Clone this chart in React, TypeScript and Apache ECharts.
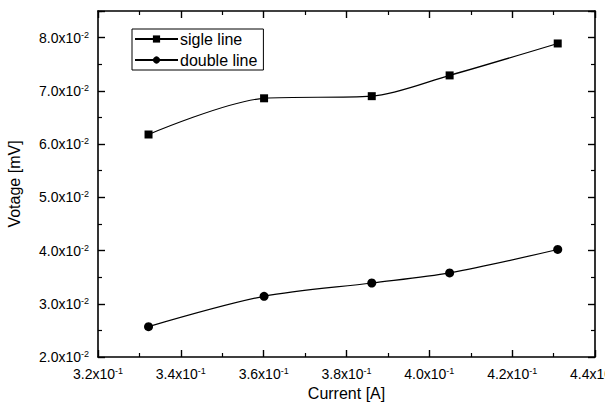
import React, { useEffect, useRef } from "react";
import * as echarts from "echarts";

const currentA = [0.3322, 0.3601, 0.3861, 0.4049, 0.431];
const singleLine = [0.0618, 0.0686, 0.069, 0.0729, 0.0789];
const doubleLine = [0.0257, 0.0314, 0.0339, 0.0358, 0.0402];
const seriesNames = ["sigle line", "double line"];
const xTicks = [0.32, 0.34, 0.36, 0.38, 0.4, 0.42, 0.44];
const yTicks = [0.02, 0.03, 0.04, 0.05, 0.06, 0.07, 0.08];

const FONT = "Liberation Sans, Arial, sans-serif";

const isTick = (v: number, list: number[]) => list.some((t) => Math.abs(t - v) < 1e-9);

export default function App() {
  const ref = useRef<HTMLDivElement>(null);
  useEffect(() => {
    document.body.style.margin = "0";
    const chart = echarts.init(ref.current!, null, { renderer: "svg" });
    const labelRich = {
      m: { fontSize: 14, fontFamily: FONT, color: "#000", lineHeight: 15 },
      s: { fontSize: 9, fontFamily: FONT, color: "#000", verticalAlign: "top", lineHeight: 15, padding: [0, 0, 6, 0] },
    };
    const axisCommon = {
      axisLine: { show: true, onZero: false, lineStyle: { color: "#000", width: 1.6 } },
      axisTick: { show: true, inside: true, length: 7, lineStyle: { color: "#000", width: 1.4 } },
      minorTick: { show: true, splitNumber: 2, length: 4, lineStyle: { color: "#000", width: 1.2 } },
      splitLine: { show: false },
    };
    chart.setOption({
      animation: false,
      backgroundColor: "#fff",
      textStyle: { fontFamily: FONT },
      grid: { left: 98, right: 10, top: 11, bottom: 51, containLabel: false, outerBoundsMode: "none" },
      legend: {
        orient: "vertical",
        left: 132,
        top: 29,
        data: seriesNames,
        borderColor: "#000",
        borderWidth: 1,
        borderRadius: 0,
        padding: [2, 6, 2, 2],
        itemGap: 5,
        itemWidth: 43,
        itemHeight: 9,
        textStyle: { fontSize: 16, fontFamily: FONT, color: "#000", padding: [0, 0, 0, -3] },
      },
      xAxis: [
        {
          type: "value",
          min: 0.32,
          max: 0.44,
          interval: 0.02,
          position: "bottom",
          name: "Current [A]",
          nameLocation: "middle",
          nameGap: 27,
          nameTextStyle: { fontSize: 16, fontFamily: FONT, color: "#000" },
          ...axisCommon,
          axisLabel: {
            margin: 9,
            formatter: (v: number) =>
              isTick(v, xTicks) ? `{m|${(v * 10).toFixed(1)}x10}{s|-1}` : "",
            rich: labelRich,
          },
        },
        {
          type: "value",
          min: 0.32,
          max: 0.44,
          interval: 0.02,
          position: "top",
          ...axisCommon,
          axisLabel: { show: false },
        },
      ],
      yAxis: [
        {
          type: "value",
          min: 0.02,
          max: 0.085,
          interval: 0.01,
          position: "left",
          name: "Votage [mV]",
          nameLocation: "middle",
          nameGap: 76,
          nameTextStyle: { fontSize: 16, fontFamily: FONT, color: "#000" },
          ...axisCommon,
          axisLabel: {
            margin: 9,
            formatter: (v: number) =>
              isTick(v, yTicks) ? `{m|${(v * 100).toFixed(1)}x10}{s|-2}` : "",
            rich: labelRich,
          },
        },
        {
          type: "value",
          min: 0.02,
          max: 0.085,
          interval: 0.01,
          position: "right",
          ...axisCommon,
          axisLabel: { show: false },
        },
      ],
      series: [
        {
          name: seriesNames[0],
          type: "line",
          smooth: 0.3,
          symbol: "rect",
          symbolSize: 8,
          data: currentA.map((x, i) => [x, singleLine[i]]),
          lineStyle: { color: "#000", width: 1.2 },
          itemStyle: { color: "#000" },
        },
        {
          name: seriesNames[1],
          type: "line",
          smooth: 0.3,
          symbol: "circle",
          symbolSize: 9,
          data: currentA.map((x, i) => [x, doubleLine[i]]),
          lineStyle: { color: "#000", width: 1.2 },
          itemStyle: { color: "#000" },
        },
      ],
    });
    return () => chart.dispose();
  }, []);
  return <div ref={ref} style={{ width: 605, height: 408 }} />;
}
